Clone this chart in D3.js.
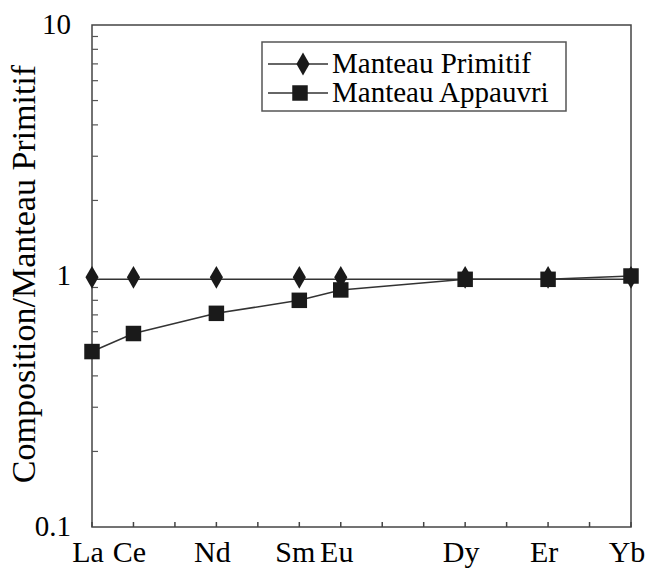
<!DOCTYPE html>
<html>
<head>
<meta charset="utf-8">
<script src="https://cdn.jsdelivr.net/npm/d3@7"></script>
</head>
<body style="margin:0">
<div id="chart"></div>
<script>
// data
const elements = ['La', 'Ce', 'Nd', 'Sm', 'Eu', 'Dy', 'Er', 'Yb'];
const atomicNumbers = [57, 58, 60, 62, 63, 66, 68, 70];
const primitif = [0.97, 0.97, 0.97, 0.97, 0.97, 0.97, 0.97, 0.97];
const appauvri = [0.5, 0.59, 0.71, 0.8, 0.88, 0.97, 0.97, 1.0];
const yTicks = [0.1, 1, 10];
const yTickLabels = ['0.1', '1', '10'];
const seriesNames = ['Manteau Primitif', 'Manteau Appauvri'];

const width = 645, height = 570;
const margin = {top: 25, right: 14, bottom: 43, left: 92};
const serif = d => '"Liberation Serif"';

const svg = d3.select('#chart').append('svg')
  .attr('width', width)
  .attr('height', height);

const x = d3.scaleLinear()
  .domain([57, 70])
  .range([margin.left, width - margin.right]);

const y = d3.scaleLog()
  .domain([0.1, 10])
  .range([height - margin.bottom, margin.top]);

const ink = '#1a1a1a';

// frame
svg.append('rect')
  .attr('x', margin.left)
  .attr('y', margin.top)
  .attr('width', width - margin.left - margin.right)
  .attr('height', height - margin.top - margin.bottom)
  .attr('fill', 'none')
  .attr('stroke', '#444')
  .attr('stroke-width', 1.5);

// minor ticks on the left axis (inside)
const minor = [];
[0.1, 1].forEach(d => { for (let k = 2; k <= 9; k++) minor.push(d * k); });
svg.append('g')
  .selectAll('line')
  .data(minor)
  .join('line')
  .attr('x1', margin.left)
  .attr('x2', margin.left + 6)
  .attr('y1', d => y(d))
  .attr('y2', d => y(d))
  .attr('stroke', '#555')
  .attr('stroke-width', 1.2);

// y tick labels
svg.append('g')
  .selectAll('text')
  .data(yTicks)
  .join('text')
  .attr('x', margin.left - 21)
  .attr('y', d => y(d))
  .attr('dy', '0.3em')
  .attr('text-anchor', 'end')
  .attr('font-size', 29)
  .style('font-family', serif)
  .text((d, i) => yTickLabels[i]);

// bottom ticks, one per atomic number
svg.append('g')
  .selectAll('line')
  .data(d3.range(57, 71))
  .join('line')
  .attr('x1', d => x(d))
  .attr('x2', d => x(d))
  .attr('y1', y(0.1))
  .attr('y2', y(0.1) - 5)
  .attr('stroke', '#444')
  .attr('stroke-width', 1.5);

// x labels
svg.append('g')
  .selectAll('text')
  .data(elements)
  .join('text')
  .attr('x', (d, i) => x(atomicNumbers[i]) - 4)
  .attr('y', 562)
  .attr('text-anchor', 'middle')
  .attr('font-size', 30)
  .style('font-family', serif)
  .text(d => d);

// axis title
svg.append('text')
  .attr('transform', `translate(35, 274) rotate(-90)`)
  .attr('text-anchor', 'middle')
  .attr('font-size', 34)
  .style('font-family', serif)
  .text('Composition/Manteau Primitif');

const line = d3.line()
  .x((d, i) => x(atomicNumbers[i]))
  .y(d => y(d));

const diamond = d3.symbol().type(d3.symbolDiamond).size(150);
const square = d3.symbol().type(d3.symbolSquare).size(240);

// Manteau Primitif
svg.append('path')
  .datum(primitif)
  .attr('d', line)
  .attr('fill', 'none')
  .attr('stroke', '#333')
  .attr('stroke-width', 1.5);

// Manteau Appauvri
svg.append('path')
  .datum(appauvri)
  .attr('d', line)
  .attr('fill', 'none')
  .attr('stroke', '#333')
  .attr('stroke-width', 1.5);

svg.append('g')
  .selectAll('path')
  .data(primitif)
  .join('path')
  .attr('d', diamond)
  .attr('transform', (d, i) => `translate(${x(atomicNumbers[i])},${y(d) - 2})`)
  .attr('fill', ink);

svg.append('g')
  .selectAll('path')
  .data(appauvri)
  .join('path')
  .attr('d', square)
  .attr('transform', (d, i) => `translate(${x(atomicNumbers[i])},${y(d)})`)
  .attr('fill', ink);

// legend
const legend = svg.append('g');
legend.append('rect')
  .attr('x', 262)
  .attr('y', 42)
  .attr('width', 304)
  .attr('height', 69)
  .attr('fill', '#fff')
  .attr('stroke', '#555')
  .attr('stroke-width', 1.5);

const rows = legend.selectAll('g.row')
  .data(seriesNames)
  .join('g')
  .attr('class', 'row')
  .attr('transform', (d, i) => `translate(0, ${64 + i * 29})`);

rows.append('line')
  .attr('x1', 268)
  .attr('x2', 328)
  .attr('stroke', '#333')
  .attr('stroke-width', 1.3);

rows.append('path')
  .attr('d', (d, i) => (i === 0 ? diamond : square)())
  .attr('transform', (d, i) => `translate(${i === 0 ? 303 : 300},0)`)
  .attr('fill', ink);

rows.append('text')
  .attr('x', 332)
  .attr('dy', '0.32em')
  .attr('font-size', 29)
  .style('font-family', serif)
  .text(d => d);
</script>
</body>
</html>
